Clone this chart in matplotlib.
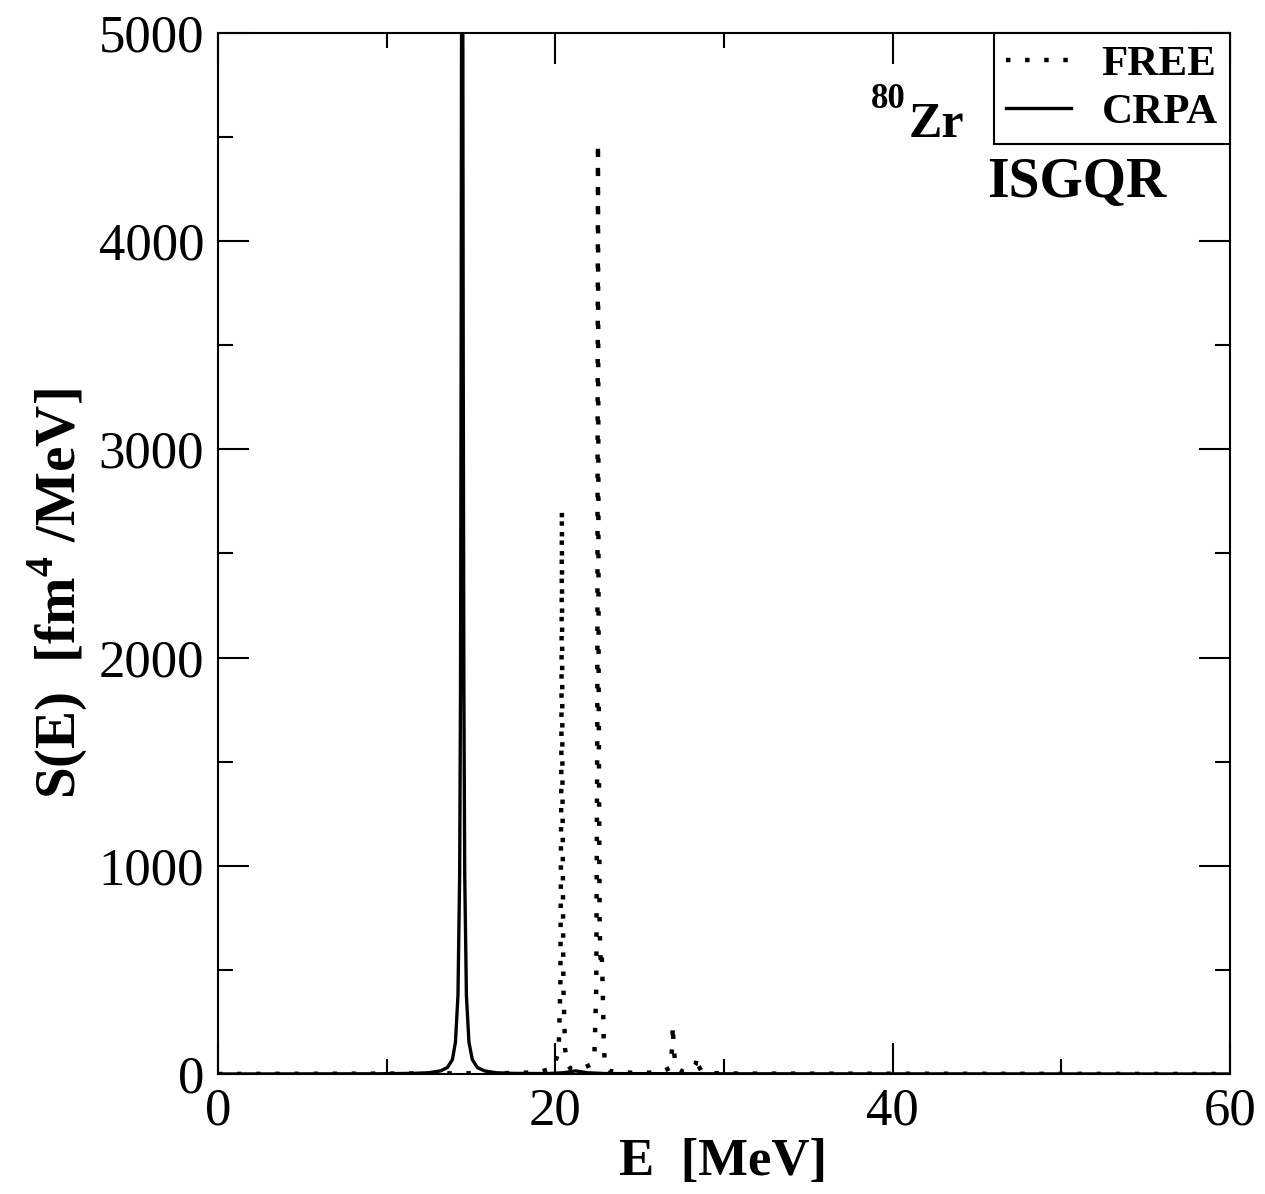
import matplotlib
matplotlib.use("Agg")
import matplotlib.pyplot as plt
from matplotlib.ticker import MultipleLocator

# ISGQR strength function for 80Zr: unperturbed (FREE) vs continuum RPA
free_E = [0, 10.0, 17.0, 19.0, 19.9, 20.2, 20.3, 20.36, 20.39, 20.42, 20.48, 20.58,
          20.69, 20.9, 21.3, 21.7, 22.1, 22.32, 22.43, 22.49, 22.53, 22.57, 22.63,
          22.69, 22.75, 22.81, 22.88, 22.95, 23.2, 23.8, 25.0, 26.3, 26.8, 26.92,
          26.97, 27.02, 27.15, 27.6, 28.1, 28.32, 28.4, 28.48, 28.7, 29.3, 31.0, 60]
free_S = [0, 2, 4, 8, 30, 110, 420, 1500, 2710, 1500, 420, 120,
          55, 25, 18, 30, 45, 95, 420, 1700, 4470, 1900, 700,
          540, 580, 420, 130, 35, 15, 8, 5, 8, 30, 120,
          235, 120, 30, 10, 15, 45, 85, 40, 10, 4, 2, 0]

crpa_E = [0, 9.5, 11.5, 12.5, 13.2, 13.6, 13.9, 14.08, 14.23, 14.33, 14.38, 14.42,
          14.45, 14.48, 14.51, 14.54, 14.58, 14.63, 14.73, 14.88, 15.08, 15.38,
          15.8, 16.5, 17.5, 19.5, 20.5, 21.2, 21.9, 23.0, 30.0, 60]
crpa_S = [0, 1, 3, 6, 15, 31, 69, 153, 378, 958, 1840, 3500,
          5600, 7000, 5600, 3500, 1840, 958, 378, 153, 69, 31,
          15, 6, 3, 2, 6, 15, 6, 2, 1, 0]

plt.rcParams['font.family'] = ['Liberation Serif', 'DejaVu Serif']
plt.rcParams['mathtext.fontset'] = 'custom'
plt.rcParams['mathtext.rm'] = 'Liberation Serif'
plt.rcParams['mathtext.bf'] = 'Liberation Serif:bold'

fig = plt.figure(figsize=(12.65, 11.94), dpi=100)
ax = fig.add_axes([0.1723, 0.1005, 0.8, 0.8719])

ax.plot(free_E, free_S, color='black', lw=3.2, linestyle=(0, (1, 3.3)),
        dash_capstyle='butt', label='FREE')
ax.plot(crpa_E, crpa_S, color='black', lw=2.4, label='CRPA')

ax.set_xlim(0, 60)
ax.set_ylim(0, 5000)
ax.xaxis.set_major_locator(MultipleLocator(20))
ax.xaxis.set_minor_locator(MultipleLocator(10))
ax.yaxis.set_major_locator(MultipleLocator(1000))
ax.yaxis.set_minor_locator(MultipleLocator(500))
ax.tick_params(which='both', direction='in', top=True, right=True,
               labelsize=38, width=1.5)
ax.tick_params(which='major', length=22, pad=10)
ax.tick_params(which='minor', length=11)
for sp in ax.spines.values():
    sp.set_linewidth(1.5)

fig.text(0.5715, 0.0268, 'E  [MeV]', fontsize=38, fontweight='bold',
         ha='center', va='center')
fig.text(0.045, 0.503, r'S(E)  [fm$^{\mathbf{4}}$ /MeV]', fontsize=41,
         fontweight='bold', rotation=90, ha='center', va='center')

leg = ax.legend(loc='upper right', borderaxespad=0, fancybox=False,
                framealpha=1, edgecolor='black', handlelength=1.5,
                handletextpad=0.72, labelspacing=0.2, borderpad=0.28,
                prop={'size': 31, 'weight': 'bold'})
leg.get_frame().set_linewidth(1.5)

ax.text(0.737, 0.900, 'Zr', transform=ax.transAxes, fontsize=36,
        fontweight='bold', ha='right', va='baseline')
ax.text(0.680, 0.928, '80', transform=ax.transAxes, fontsize=25,
        fontweight='bold', ha='right', va='baseline')
ax.text(0.760, 0.842, 'ISGQR', transform=ax.transAxes, fontsize=40,
        fontweight='bold', ha='left', va='baseline')

fig.savefig('out.png', dpi=100)
